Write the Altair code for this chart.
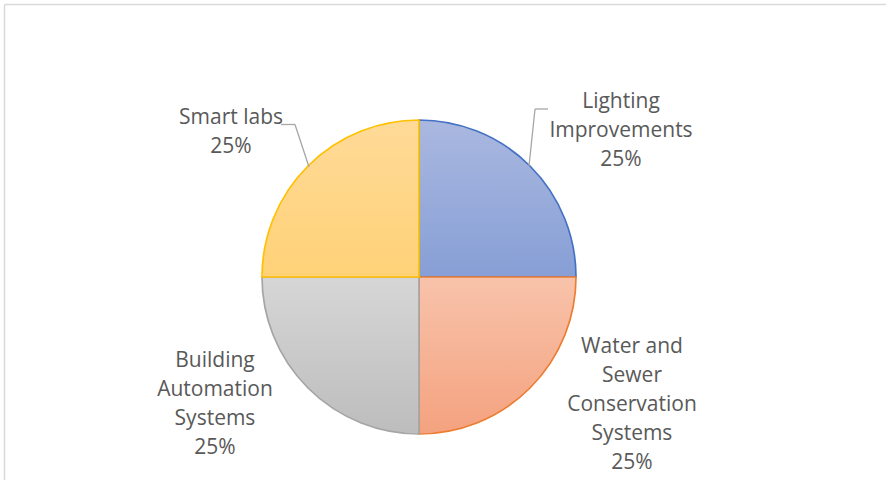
import altair as alt
import pandas as pd

categories = ["Lighting Improvements", "Water and Sewer Conservation Systems",
              "Building Automation Systems", "Smart labs"]
values = [25, 25, 25, 25]
order = [1, 2, 3, 4]
label_lines = [["Lighting", "Improvements", "25%"],
               ["Water and", "Sewer", "Conservation", "Systems", "25%"],
               ["Building", "Automation", "Systems", "25%"],
               ["Smart labs", "25%"]]

# styles
grad_top = ["#AAB8E0", "#F8C3AB", "#D6D6D6", "#FFDA98"]
grad_bot = ["#879FD6", "#F4A27F", "#BDBDBD", "#FFD278"]
strokes = ["#4472C4", "#ED7D31", "#A5A5A5", "#FFC000"]
# layout (pixel positions of label block tops and centers)
CX, CY, R = 419, 277, 157
label_xy = [(621, 91), (632, 336), (215, 350), (231, 107)]

df = pd.DataFrame({"cat": categories, "value": values, "idx": order})

base = alt.Chart(df).transform_window(
    cum="sum(value)", sort=[alt.SortField("idx")], frame=[None, 0]
).transform_calculate(start="datum.cum - datum.value")

layers = []
# frame border lines
frame = alt.Chart(pd.DataFrame({"a": [0]})).mark_rule(color="#D9D9D9", strokeWidth=1.5)
layers.append(frame.encode(x=alt.value(4.5), x2=alt.value(886), y=alt.value(4.5), y2=alt.value(4.5)))
layers.append(frame.encode(x=alt.value(4.5), x2=alt.value(4.5), y=alt.value(4.5), y2=alt.value(480)))

for i, c in enumerate(categories):
    grad = alt.Gradient(
        gradient="linear", x1=0, y1=0, x2=0, y2=1,
        stops=[alt.GradientStop(color=grad_top[i], offset=0),
               alt.GradientStop(color=grad_bot[i], offset=1)],
    )
    layers.append(
        base.transform_filter(alt.datum.cat == c)
        .mark_arc(fill=grad, stroke=strokes[i], strokeWidth=1.7, outerRadius=R)
        .encode(
            theta=alt.Theta("start:Q", scale=alt.Scale(domain=[0, sum(values)])),
            theta2="cum:Q",
            x=alt.value(CX), y=alt.value(CY),
        )
    )

# leader lines
lead = alt.Chart(pd.DataFrame({"a": [0]})).mark_rule(color="#A6A6A6", strokeWidth=1.3)
layers.append(lead.encode(x=alt.value(281), x2=alt.value(295), y=alt.value(124.5), y2=alt.value(124.5)))
layers.append(lead.encode(x=alt.value(295), x2=alt.value(309), y=alt.value(124.5), y2=alt.value(167)))
layers.append(lead.encode(x=alt.value(548), x2=alt.value(535), y=alt.value(109), y2=alt.value(109)))
layers.append(lead.encode(x=alt.value(535), x2=alt.value(529), y=alt.value(109), y2=alt.value(166)))

for i, lines in enumerate(label_lines):
    lx, ly = label_xy[i]
    layers.append(
        alt.Chart(pd.DataFrame({"t": [lines]}))
        .mark_text(font="Open Sans", fontSize=21, color="#595959", align="center",
                   baseline="top", lineHeight=29)
        .encode(text="t", x=alt.value(lx), y=alt.value(ly))
    )

chart = alt.layer(*layers).properties(
    width=886, height=480, autosize=alt.AutoSizeParams(type="none"), padding=0
).configure_view(stroke=None)

chart.save("out.html", embed_options={"renderer": "svg", "actions": False})
